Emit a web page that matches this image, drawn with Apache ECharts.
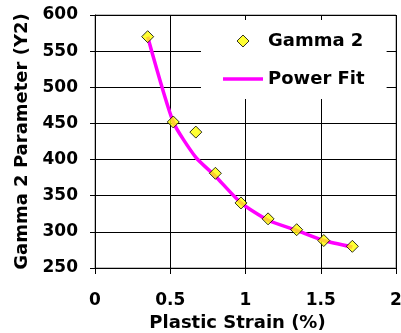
<!DOCTYPE html>
<html>
<head>
<meta charset="utf-8">
<script src="https://cdn.jsdelivr.net/npm/echarts@6/dist/echarts.min.js"></script>
<style>
  html, body { margin: 0; padding: 0; background: #fff; }
  #chart { width: 401px; height: 333px; }
</style>
</head>
<body>
<div id="chart"></div>
<script>
// values
const strain = [0.35, 0.52, 0.67, 0.80, 0.97, 1.15, 1.34, 1.52, 1.71]
const gamma2 = [570, 452, 438, 381, 340, 318, 303, 288, 280]
const powerFit = [570, 452, 403, 377, 340, 316, 302, 288, 279]

const font = 'DejaVu Sans'

function pairs(xs, ys) {
  return xs.map((x, i) => [x, ys[i]])
}

const option = {
  animation: false,
  backgroundColor: '#fff',
  grid: {
    left: 95,
    right: 5,
    top: 15,
    bottom: 65,
    outerBoundsMode: 'none',
    containLabel: false,
    show: true,
    borderColor: '#808080',
    borderWidth: 1,
  },
  legend: {
    orient: 'vertical',
    left: 201,
    top: 20,
    padding: [12, 22, 11, 22],
    backgroundColor: '#fff',
    itemWidth: 40,
    itemHeight: 12,
    itemGap: 20,
    symbolKeepAspect: true,
    textStyle: { fontFamily: font, fontWeight: 'bold', fontSize: 18, color: '#000' },
    data: [
      {
        name: 'Gamma 2',
        icon: 'path://M0,-6L6,0L0,6L-6,0Z',
        itemStyle: { color: '#ffff00', borderColor: '#000', borderWidth: 1 },
      },
      {
        name: 'Power Fit',
        icon: 'path://M0,0L40,0L40,3.5L0,3.5Z',
        itemStyle: { color: '#ff00ff', borderWidth: 0 },
      },
    ],
  },
  xAxis: {
    type: 'value',
    min: 0,
    max: 2,
    interval: 0.5,
    name: 'Plastic Strain (%)',
    nameLocation: 'middle',
    nameGap: 33,
    nameTextStyle: { fontFamily: font, fontWeight: 'bold', fontSize: 18, color: '#000', padding: [0, 16, 0, 0] },
    axisLine: { lineStyle: { color: '#000', width: 1 } },
    axisTick: { show: true, length: 6, lineStyle: { color: '#000' } },
    axisLabel: { fontFamily: font, fontWeight: 'bold', fontSize: 17, color: '#000', margin: 24 },
    splitLine: { show: true, lineStyle: { color: '#000', width: 1 } },
  },
  yAxis: {
    type: 'value',
    min: 250,
    max: 600,
    interval: 50,
    name: 'Gamma 2 Parameter (Y2)',
    nameLocation: 'middle',
    nameGap: 61,
    nameTextStyle: { fontFamily: font, fontWeight: 'bold', fontSize: 18, color: '#000' },
    axisLine: { show: true, lineStyle: { color: '#000', width: 1 } },
    axisTick: { show: true, length: 5, lineStyle: { color: '#000' } },
    axisLabel: { fontFamily: font, fontWeight: 'bold', fontSize: 17, color: '#000', margin: 17 },
    splitLine: { show: true, lineStyle: { color: '#000', width: 1 } },
  },
  series: [
    {
      name: 'Gamma 2',
      type: 'scatter',
      symbol: 'diamond',
      symbolSize: 12,
      z: 5,
      itemStyle: { color: '#ffff00', borderColor: '#000', borderWidth: 1 },
      data: pairs(strain, gamma2),
    },
    {
      name: 'Power Fit',
      type: 'line',
      symbol: 'none',
      smooth: 0.2,
      z: 3,
      lineStyle: { color: '#ff00ff', width: 3.5 },
      itemStyle: { color: '#ff00ff' },
      data: pairs(strain, powerFit),
    },
  ],
}

var myChart = echarts.init(document.getElementById('chart'))
myChart.setOption(option)
</script>
</body>
</html>
